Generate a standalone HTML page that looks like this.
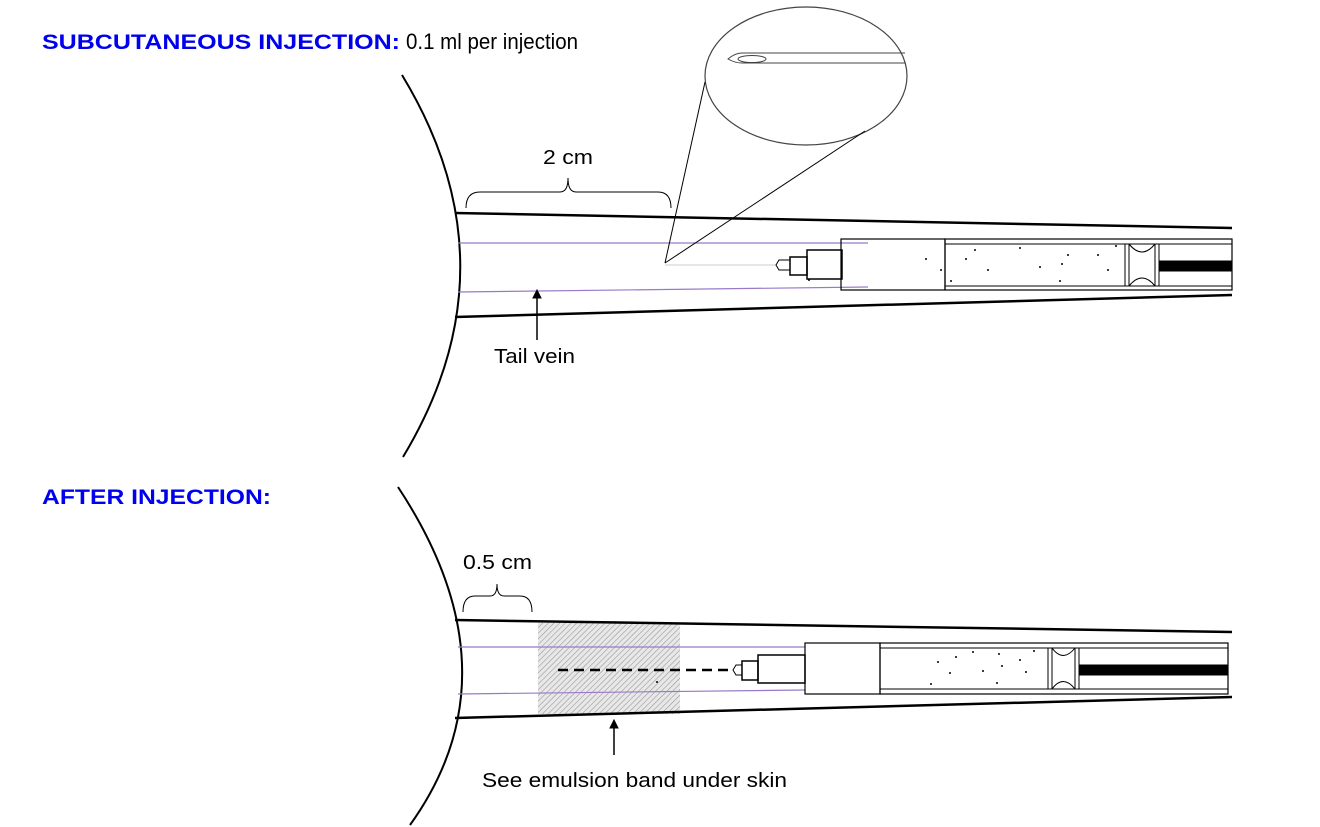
<!DOCTYPE html>
<html><head><meta charset="utf-8"><style>
body{margin:0;background:#fff;width:1320px;height:827px;overflow:hidden}
svg{position:absolute;left:0;top:0}
</style></head><body>
<svg width="1320" height="827" viewBox="0 0 1320 827" font-family="Liberation Sans, sans-serif">
<defs>
<pattern id="h" width="4" height="4" patternUnits="userSpaceOnUse" patternTransform="rotate(45)">
<rect width="4" height="4" fill="#e8e8e8"/><line x1="0" y1="0" x2="0" y2="4" stroke="#999" stroke-width="1.2"/>
</pattern>
</defs>
<text x="42" y="49" fill="#0000ee" font-size="21" font-weight="bold" textLength="358" lengthAdjust="spacingAndGlyphs">SUBCUTANEOUS INJECTION:</text>
<text x="406" y="49" fill="#000" font-size="22" textLength="172" lengthAdjust="spacingAndGlyphs">0.1 ml per injection</text>
<text x="42" y="504" fill="#0000ee" font-size="21" font-weight="bold" textLength="229" lengthAdjust="spacingAndGlyphs">AFTER INJECTION:</text>

<g fill="none" stroke="#000">
<path d="M402 75 Q518 266 403 457" stroke-width="2"/>
<line x1="455" y1="213" x2="1232" y2="228" stroke-width="2.5"/>
<line x1="455" y1="317" x2="1232" y2="295" stroke-width="2.5"/>
<line x1="458" y1="243" x2="868" y2="243" stroke="#9a7ac8" stroke-width="1.2"/>
<line x1="458" y1="292" x2="868" y2="287" stroke="#9a7ac8" stroke-width="1.2"/>
<line x1="665" y1="265" x2="776" y2="265" stroke="#ccc"/>
<path d="M776 265 L779 260 H790 V270 H779 Z" stroke-width="1"/>
<rect x="790" y="257" width="17" height="18" stroke-width="1.5"/>
<rect x="807" y="250" width="35" height="29" stroke-width="1.5"/>
<rect x="841" y="239" width="104" height="51" stroke-width="1.2"/>
<rect x="945" y="239" width="287" height="51" stroke-width="1.2"/>
<line x1="945" y1="244" x2="1232" y2="244"/>
<line x1="945" y1="286" x2="1232" y2="286"/>
<line x1="1125" y1="244" x2="1125" y2="286"/><line x1="1129" y1="244" x2="1129" y2="286"/>
<line x1="1155" y1="244" x2="1155" y2="286"/><line x1="1159" y1="244" x2="1159" y2="286"/>
<path d="M1129 244 Q1142 260 1155 244 M1129 286 Q1142 270 1155 286"/>
<rect x="1160" y="261" width="72" height="10" fill="#000"/>
<ellipse cx="806" cy="76" rx="101" ry="69" stroke="#444" stroke-width="1.2"/>
<line x1="705" y1="82" x2="665" y2="263" stroke-width="1"/>
<line x1="865" y1="131" x2="665" y2="263" stroke-width="1"/>
<path d="M905 53 H742 Q735 53 728 59 Q735 63 742 63 H905" stroke="#444"/>
<ellipse cx="752" cy="59" rx="14" ry="3.5" stroke="#444"/>
<path d="M466 208 Q466 192 480 192 H560 Q568 192 568 178 Q568 192 576 192 H658 Q671 192 671 208" stroke-width="1"/>
<line x1="537" y1="340" x2="537" y2="296" stroke-width="1.5"/>
<path d="M533 298 L537 290 L541 298 Z" fill="#000"/>
</g>
<text x="543" y="164" font-size="20" textLength="50" lengthAdjust="spacingAndGlyphs">2 cm</text>
<text x="494" y="363" font-size="20" textLength="81" lengthAdjust="spacingAndGlyphs">Tail vein</text>
<g fill="#000">
<circle cx="926" cy="259" r="1"/><circle cx="951" cy="281" r="1"/><circle cx="966" cy="259" r="1"/><circle cx="975" cy="250" r="1"/><circle cx="941" cy="270" r="1"/><circle cx="988" cy="270" r="1"/><circle cx="1020" cy="248" r="1"/><circle cx="1040" cy="267" r="1"/><circle cx="1062" cy="264" r="1"/><circle cx="1068" cy="255" r="1"/><circle cx="1108" cy="270" r="1"/><circle cx="1060" cy="281" r="1"/><circle cx="1098" cy="255" r="1"/><circle cx="1116" cy="246" r="1"/><circle cx="809" cy="280" r="1"/>
</g>

<g fill="none" stroke="#000">
<path d="M398 487 Q520 672 410 825" stroke-width="2"/>
<rect x="538" y="623" width="142" height="91" fill="url(#h)" stroke="none"/>
<line x1="455" y1="620" x2="1232" y2="632" stroke-width="2.5"/>
<line x1="455" y1="718" x2="1232" y2="697" stroke-width="2.5"/>
<line x1="458" y1="647" x2="805" y2="647" stroke="#9a7ac8" stroke-width="1.2"/>
<line x1="458" y1="694" x2="805" y2="690" stroke="#9a7ac8" stroke-width="1.2"/>
<line x1="558" y1="670" x2="728" y2="670" stroke-width="2.5" stroke-dasharray="10 6"/>
<path d="M733 670 L736 665 H742 V675 H736 Z" stroke-width="1"/>
<rect x="742" y="661" width="16" height="19" stroke-width="1.5"/>
<rect x="758" y="655" width="47" height="28" stroke-width="1.5"/>
<rect x="805" y="643" width="75" height="51" stroke-width="1.2"/>
<rect x="880" y="643" width="348" height="51" stroke-width="1.2"/>
<line x1="880" y1="648" x2="1228" y2="648"/>
<line x1="880" y1="689" x2="1228" y2="689"/>
<line x1="1048" y1="648" x2="1048" y2="689"/><line x1="1052" y1="648" x2="1052" y2="689"/>
<line x1="1075" y1="648" x2="1075" y2="689"/><line x1="1079" y1="648" x2="1079" y2="689"/>
<path d="M1052 648 Q1063 663 1075 648 M1052 689 Q1063 674 1075 689"/>
<rect x="1080" y="665" width="148" height="10" fill="#000"/>
<path d="M463 612 Q463 596 475 596 H490 Q497 596 497 584 Q497 596 504 596 H520 Q532 596 532 612" stroke-width="1"/>
<line x1="614" y1="755" x2="614" y2="726" stroke-width="1.5"/>
<path d="M610 728 L614 720 L618 728 Z" fill="#000"/>
</g>
<g fill="#000">
<circle cx="938" cy="662" r="1"/><circle cx="956" cy="657" r="1"/><circle cx="973" cy="652" r="1"/><circle cx="999" cy="654" r="1"/><circle cx="1020" cy="660" r="1"/><circle cx="1002" cy="666" r="1"/><circle cx="950" cy="673" r="1"/><circle cx="983" cy="671" r="1"/><circle cx="1026" cy="672" r="1"/><circle cx="1034" cy="651" r="1"/><circle cx="931" cy="684" r="1"/><circle cx="997" cy="683" r="1"/><circle cx="657" cy="682" r="1"/>
</g>
<text x="463" y="569" font-size="20" textLength="69" lengthAdjust="spacingAndGlyphs">0.5 cm</text>
<text x="482" y="787" font-size="20" textLength="305" lengthAdjust="spacingAndGlyphs">See emulsion band under skin</text>
</svg>
</body></html>
